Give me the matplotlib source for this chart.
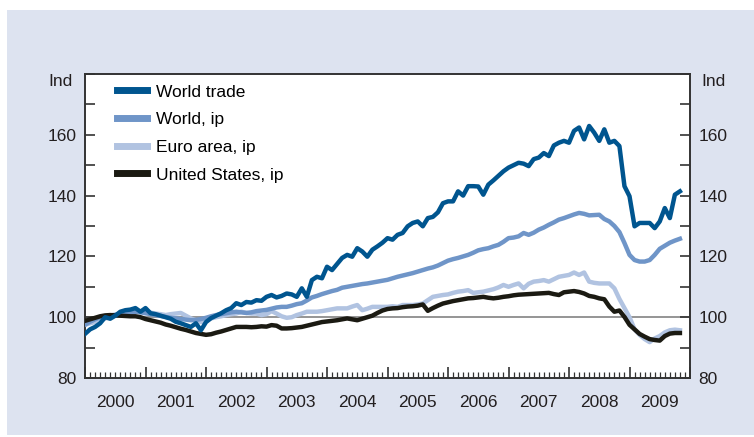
import matplotlib
matplotlib.use("Agg")
import matplotlib.pyplot as plt
from matplotlib.patches import Rectangle
from matplotlib.ticker import MultipleLocator
import numpy as np

plt.rcParams['font.family'] = ['Liberation Sans', 'DejaVu Sans']

# monthly index values, Jan 2000 .. Nov 2009
world_trade = [
    94.5, 96.0, 96.8, 98.0, 100.0, 99.5, 100.5, 101.8, 102.3, 102.5, 103.0, 101.8,
    103.0, 101.3, 101.0, 100.5, 100.0, 99.5, 98.5, 98.0, 97.4, 96.8, 98.0, 95.7,
    98.4, 99.7, 100.5, 101.3, 102.3, 103.0, 104.6, 104.0, 105.0, 104.8, 105.6, 105.4,
    106.7, 107.3, 106.5, 107.0, 107.8, 107.5, 106.7, 109.5, 106.7, 112.2, 113.3, 112.8,
    116.6, 115.5, 117.5, 119.5, 120.5, 119.9, 122.7, 121.6, 119.9, 122.2, 123.3, 124.5,
    126.0, 125.5, 127.1, 127.7, 129.9, 131.0, 131.5, 129.9, 132.6, 133.0, 134.5, 137.5,
    138.1, 138.1, 141.4, 140.0, 143.1, 143.1, 143.0, 140.3, 143.6, 145.0, 146.5, 148.0,
    149.2, 150.0, 150.8, 150.5, 149.7, 152.0, 152.5, 154.0, 153.0, 156.5, 157.4, 158.0,
    157.4, 161.3, 162.4, 158.5, 162.9, 160.7, 158.0, 161.8, 157.4, 158.0, 156.3, 143.1,
    139.8, 129.9, 131.0, 131.0, 131.0, 129.3, 131.5, 135.9, 132.6, 140.3, 141.4,
]
world_ip = [
    97.5, 98.5, 99.3, 100.0, 100.3, 100.6, 100.8, 101.0, 101.3, 101.6, 101.8, 101.6,
    101.3, 101.0, 100.7, 100.4, 100.1, 99.8, 99.6, 99.4, 99.2, 99.0, 99.1, 99.4,
    99.8, 100.3, 100.7, 101.0, 101.3, 101.6, 101.8, 101.6, 101.4, 101.6, 102.0, 102.2,
    102.4, 102.8, 103.2, 103.4, 103.4, 103.8, 104.3, 104.6, 105.5, 106.5, 107.0, 107.6,
    108.1, 108.6, 109.0, 109.7, 110.0, 110.3, 110.6, 110.9, 111.1, 111.4, 111.7, 112.0,
    112.3, 112.8, 113.3, 113.7, 114.1, 114.5, 115.0, 115.5, 116.0, 116.4, 117.0, 117.8,
    118.6, 119.1, 119.5, 120.0, 120.5, 121.2, 122.0, 122.4, 122.7, 123.3, 123.8, 124.8,
    126.0, 126.2, 126.6, 127.7, 127.1, 127.8, 128.8, 129.5, 130.4, 131.2, 132.1, 132.6,
    133.2, 133.8, 134.3, 134.0, 133.5, 133.6, 133.7, 132.3, 131.5, 130.0, 128.0, 124.4,
    120.5, 118.8, 118.3, 118.3, 118.8, 120.5, 122.5, 123.5, 124.5, 125.2, 125.8,
]
euro_ip = [
    97.5, 98.0, 98.4, 99.0, 99.6, 100.0, 100.7, 101.0, 101.5, 102.3, 102.3, 101.8,
    101.8, 101.5, 101.2, 101.0, 100.7, 101.0, 101.2, 101.4, 100.5, 99.6, 99.0, 98.4,
    98.8, 99.6, 100.0, 100.3, 100.7, 101.0, 101.2, 101.8, 101.4, 101.2, 101.2, 100.7,
    101.0, 102.0, 101.2, 100.3, 99.8, 100.0, 100.7, 101.2, 101.8, 101.8, 101.8, 102.0,
    102.3, 102.6, 102.9, 102.9, 102.9, 103.5, 104.0, 102.3, 102.8, 103.4, 103.4, 103.4,
    103.4, 103.6, 103.4, 104.0, 104.0, 104.0, 104.2, 104.5, 105.6, 106.7, 107.0, 107.3,
    107.5, 108.0, 108.4, 108.6, 108.9, 108.0, 108.2, 108.4, 108.8, 109.2, 109.8, 110.6,
    110.0, 110.6, 111.1, 109.5, 111.0, 111.7, 111.9, 112.2, 111.7, 112.5, 113.3, 113.6,
    113.9, 114.7, 113.9, 114.7, 111.7, 111.3, 111.1, 111.1, 111.1, 109.5, 106.0, 103.0,
    100.0, 96.0, 94.2, 92.8, 91.8, 93.0, 93.8, 95.0, 95.7, 95.9, 95.7,
]
us_ip = [
    98.8, 99.3, 99.8, 100.3, 100.6, 100.7, 100.6, 100.5, 100.4, 100.3, 100.3, 100.0,
    99.4, 99.0, 98.6, 98.2, 97.6, 97.2, 96.7, 96.2, 95.8, 95.3, 94.8, 94.5,
    94.2, 94.4, 94.9, 95.3, 95.8, 96.3, 96.8, 96.8, 96.8, 96.7, 96.8, 97.0,
    96.9, 97.4, 97.2, 96.3, 96.3, 96.4, 96.6, 96.8, 97.2, 97.6, 98.0, 98.4,
    98.6, 98.8, 99.0, 99.3, 99.6, 99.3, 99.0, 99.5, 100.0, 100.5, 101.4, 102.2,
    102.7, 102.9, 103.0, 103.3, 103.5, 103.6, 103.8, 104.2, 102.1, 103.0, 103.8, 104.5,
    104.9, 105.3, 105.6, 105.9, 106.2, 106.3, 106.5, 106.7, 106.4, 106.2, 106.4, 106.7,
    106.9, 107.2, 107.4, 107.5, 107.6, 107.7, 107.8, 107.9, 108.0, 107.6, 107.3, 108.2,
    108.4, 108.6, 108.3, 107.8, 107.0, 106.7, 106.2, 105.9, 103.5, 101.8, 102.2, 100.1,
    97.5, 96.0, 94.5, 93.6, 92.8, 92.5, 92.3, 93.8, 94.6, 94.8, 94.8,
]
year_labels = ['2000', '2001', '2002', '2003', '2004', '2005', '2006', '2007', '2008', '2009']

t = 2000 + np.arange(len(world_trade)) / 12.0

fig = plt.figure(figsize=(7.54, 4.37), dpi=100)
fig.patch.set_facecolor('white')
# light blue panel behind the chart
fig.patches.append(Rectangle((7 / 754, 2 / 437), 747 / 754, 425 / 437,
                             transform=fig.transFigure, facecolor='#dde3f0',
                             edgecolor='none', zorder=-10))

ax = fig.add_axes([85 / 754, 59 / 437, 605 / 754, 304 / 437])
ax.set_facecolor('white')

ax.axhline(100, color='#8c8c8c', lw=1.3, zorder=1)
l_ea, = ax.plot(t, euro_ip, color='#b1c3e1', lw=3.2, label='Euro area, ip', zorder=2)
l_wip, = ax.plot(t, world_ip, color='#6f95c8', lw=3.2, label='World, ip', zorder=3)
l_us, = ax.plot(t, us_ip, color='#1b1a12', lw=3.2, label='United States, ip', zorder=4)
l_wt, = ax.plot(t, world_trade, color='#00558f', lw=3.2, label='World trade', zorder=5)

ax.set_xlim(2000, 2010)
ax.set_ylim(80, 180)

ax.set_xticks(np.arange(2000, 2011))
ax.set_xticklabels([])
ax.xaxis.set_minor_locator(MultipleLocator(1 / 12))
ax.tick_params(axis='x', which='major', direction='in', length=8, width=1.2, color='#333333')
ax.tick_params(axis='x', which='minor', direction='in', length=4, width=0.9, color='#333333')
for i, lab in enumerate(year_labels):
    ax.text(2000.5 + i, -0.055, lab, transform=ax.get_xaxis_transform(),
            ha='center', va='top', fontsize=12.5, color='#231f20')

ax.set_yticks([80, 100, 120, 140, 160])
ax.yaxis.set_minor_locator(MultipleLocator(10))
ax.tick_params(axis='y', which='both', direction='in', length=7, width=1.2,
               color='#333333', left=True, right=True, labelleft=True, labelright=True,
               labelsize=12.5, labelcolor='#231f20', pad=6)

for s in ax.spines.values():
    s.set_color('#333333')
    s.set_linewidth(1.4)

ax.text(-0.02, 1.0, 'Ind', transform=ax.transAxes, ha='right', va='top',
        fontsize=12.5, color='#231f20')
ax.text(1.018, 1.0, 'Ind', transform=ax.transAxes, ha='left', va='top',
        fontsize=12.5, color='#231f20')

ax.legend(handles=[l_wt, l_wip, l_ea, l_us], loc='upper left', frameon=False,
          fontsize=12.5, handlelength=1.75, handletextpad=0.5, labelspacing=0.72,
          borderaxespad=0.2, bbox_to_anchor=(0.035, 1.0))
for h in ax.get_legend().get_lines():
    h.set_linewidth(5)

fig.savefig('out.png', dpi=100)
